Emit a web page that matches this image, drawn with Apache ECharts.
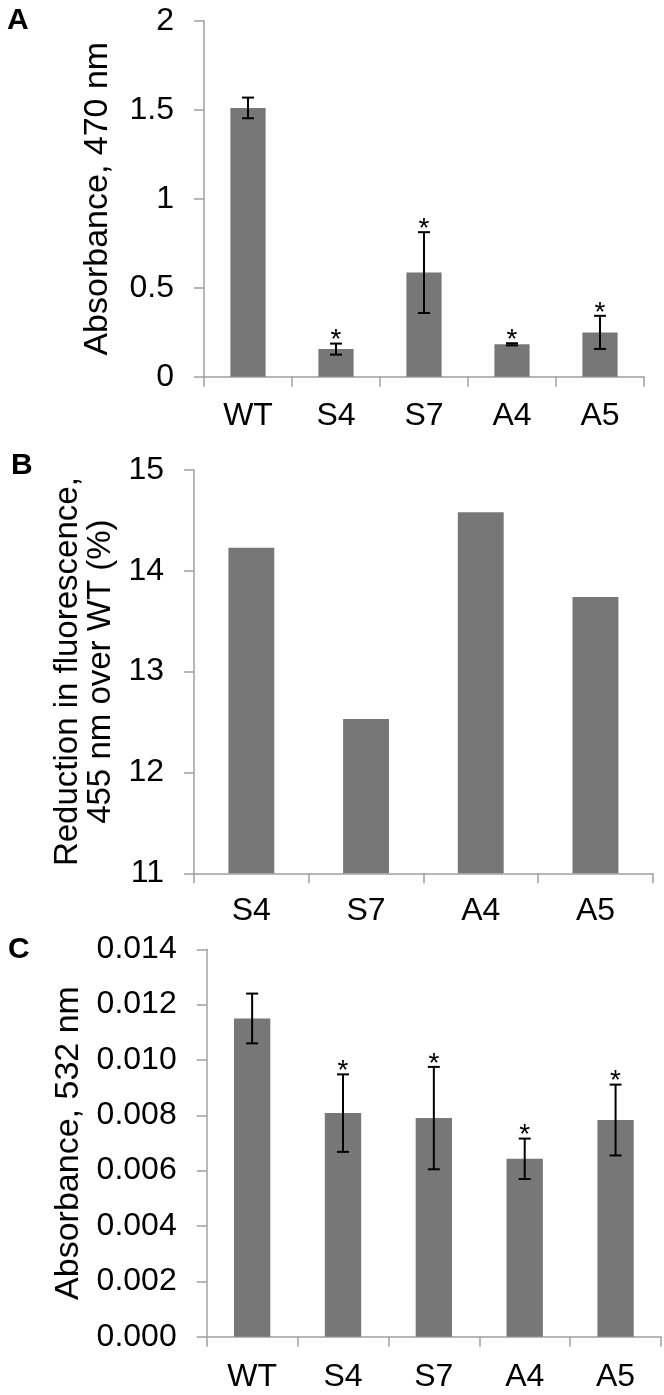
<!DOCTYPE html>
<html>
<head>
<meta charset="utf-8">
<script src="https://cdn.jsdelivr.net/npm/echarts@6/dist/echarts.min.js"></script>
<style>
html,body{margin:0;padding:0;background:#fff;}
#chart{width:664px;height:1395px;}
</style>
</head>
<body>
<div id="chart"></div>
<script>
// ---- Data ----
const catsA = ['WT', 'S4', 'S7', 'A4', 'A5'];
const meanA = [1.51, 0.155, 0.585, 0.182, 0.249];
const errA  = [0.058, 0.031, 0.227, 0.006, 0.093];
const starA = [0, 1, 1, 1, 1];

const catsB = ['S4', 'S7', 'A4', 'A5'];
const valB  = [14.23, 12.53, 14.58, 13.74];

const catsC = ['WT', 'S4', 'S7', 'A4', 'A5'];
const meanC = [0.0115, 0.00808, 0.0079, 0.00643, 0.00783];
const errC  = [0.0009, 0.0014, 0.00185, 0.00073, 0.00128];
const starC = [0, 1, 1, 1, 1];

const panelLetters = ['A', 'B', 'C'];
const nameA = 'Absorbance, 470 nm';
const nameB = 'Reduction in fluorescence,\n455 nm over WT (%)';
const nameC = 'Absorbance, 532 nm';

// ---- Style ----
const FONT = "'Liberation Sans', Arial, Helvetica, sans-serif";
const AXIS_COLOR = '#a0a0a0';
const BAR_COLOR = '#777777';

function errRender(params, api) {
  const idx = api.value(0), m = api.value(1), e = api.value(2), star = api.value(3);
  const top = api.coord([idx, m + e]);
  const bot = api.coord([idx, m - e]);
  const half = 6;
  const st = { stroke: '#000', lineWidth: 2 };
  const children = [
    { type: 'line', shape: { x1: top[0], y1: top[1], x2: bot[0], y2: bot[1] }, style: st },
    { type: 'line', shape: { x1: top[0] - half, y1: top[1], x2: top[0] + half, y2: top[1] }, style: st },
    { type: 'line', shape: { x1: bot[0] - half, y1: bot[1], x2: bot[0] + half, y2: bot[1] }, style: st }
  ];
  if (star) {
    children.push({
      type: 'text', x: top[0], y: top[1] - 3,
      style: { text: '*', fontSize: 28, fontFamily: FONT, fill: '#000', align: 'center', verticalAlign: 'middle' }
    });
  }
  return { type: 'group', children };
}

function xAxisCfg(gridIndex, cats, margin) {
  return {
    type: 'category', gridIndex, data: cats,
    axisLine: { lineStyle: { color: AXIS_COLOR, width: 1.5 } },
    axisTick: { show: true, length: 10, lineStyle: { color: AXIS_COLOR, width: 1.5 } },
    axisLabel: { color: '#000', fontSize: 32, fontFamily: FONT, margin: margin }
  };
}
function yAxisCfg(gridIndex, min, max, interval, name, nameGap, nameSize, fmt) {
  return {
    type: 'value', gridIndex, min, max, interval,
    name, nameLocation: 'middle', nameGap,
    nameTextStyle: { color: '#000', fontSize: nameSize, fontFamily: FONT, lineHeight: 33 },
    axisLine: { show: true, lineStyle: { color: AXIS_COLOR, width: 1.5 } },
    axisTick: { show: true, length: 10, lineStyle: { color: AXIS_COLOR, width: 1.5 } },
    splitLine: { show: false },
    axisLabel: { color: '#000', fontSize: 32, fontFamily: FONT, margin: 30, formatter: fmt }
  };
}

const chart = echarts.init(document.getElementById('chart'), null, { renderer: 'canvas' });
const option = {
  animation: false,
  backgroundColor: '#fff',
  grid: [
    { left: 204, top: 20.7, width: 440, height: 356 },
    { left: 194, top: 470, width: 458.8, height: 403.3 },
    { left: 206.7, top: 949.3, width: 454.3, height: 387.4 }
  ],
  xAxis: [
    xAxisCfg(0, catsA, 23),
    xAxisCfg(1, catsB, 22),
    xAxisCfg(2, catsC, 24)
  ],
  yAxis: [
    yAxisCfg(0, 0, 2, 0.5, nameA, 90, 34, v => String(v)),
    yAxisCfg(1, 11, 15, 1, nameB, 76, 33, v => String(v)),
    yAxisCfg(2, 0, 0.014, 0.002, nameC, 118, 34, v => v.toFixed(3))
  ],
  graphic: panelLetters.map((t, i) => ({
    type: 'text', left: [7, 11, 8][i], top: [6, 451, 935][i],
    style: { text: t, fontSize: 30, fontWeight: 'bold', fontFamily: FONT, fill: '#000' }
  })),
  series: [
    { type: 'bar', xAxisIndex: 0, yAxisIndex: 0, data: meanA, barWidth: '40%', itemStyle: { color: BAR_COLOR } },
    { type: 'custom', xAxisIndex: 0, yAxisIndex: 0, renderItem: errRender, z: 5,
      data: meanA.map((m, i) => [i, m, errA[i], starA[i]]) },
    { type: 'bar', xAxisIndex: 1, yAxisIndex: 1, data: valB, barWidth: '40%', itemStyle: { color: BAR_COLOR } },
    { type: 'bar', xAxisIndex: 2, yAxisIndex: 2, data: meanC, barWidth: '40%', itemStyle: { color: BAR_COLOR } },
    { type: 'custom', xAxisIndex: 2, yAxisIndex: 2, renderItem: errRender, z: 5,
      data: meanC.map((m, i) => [i, m, errC[i], starC[i]]) }
  ]
};
chart.setOption(option);
</script>
</body>
</html>
